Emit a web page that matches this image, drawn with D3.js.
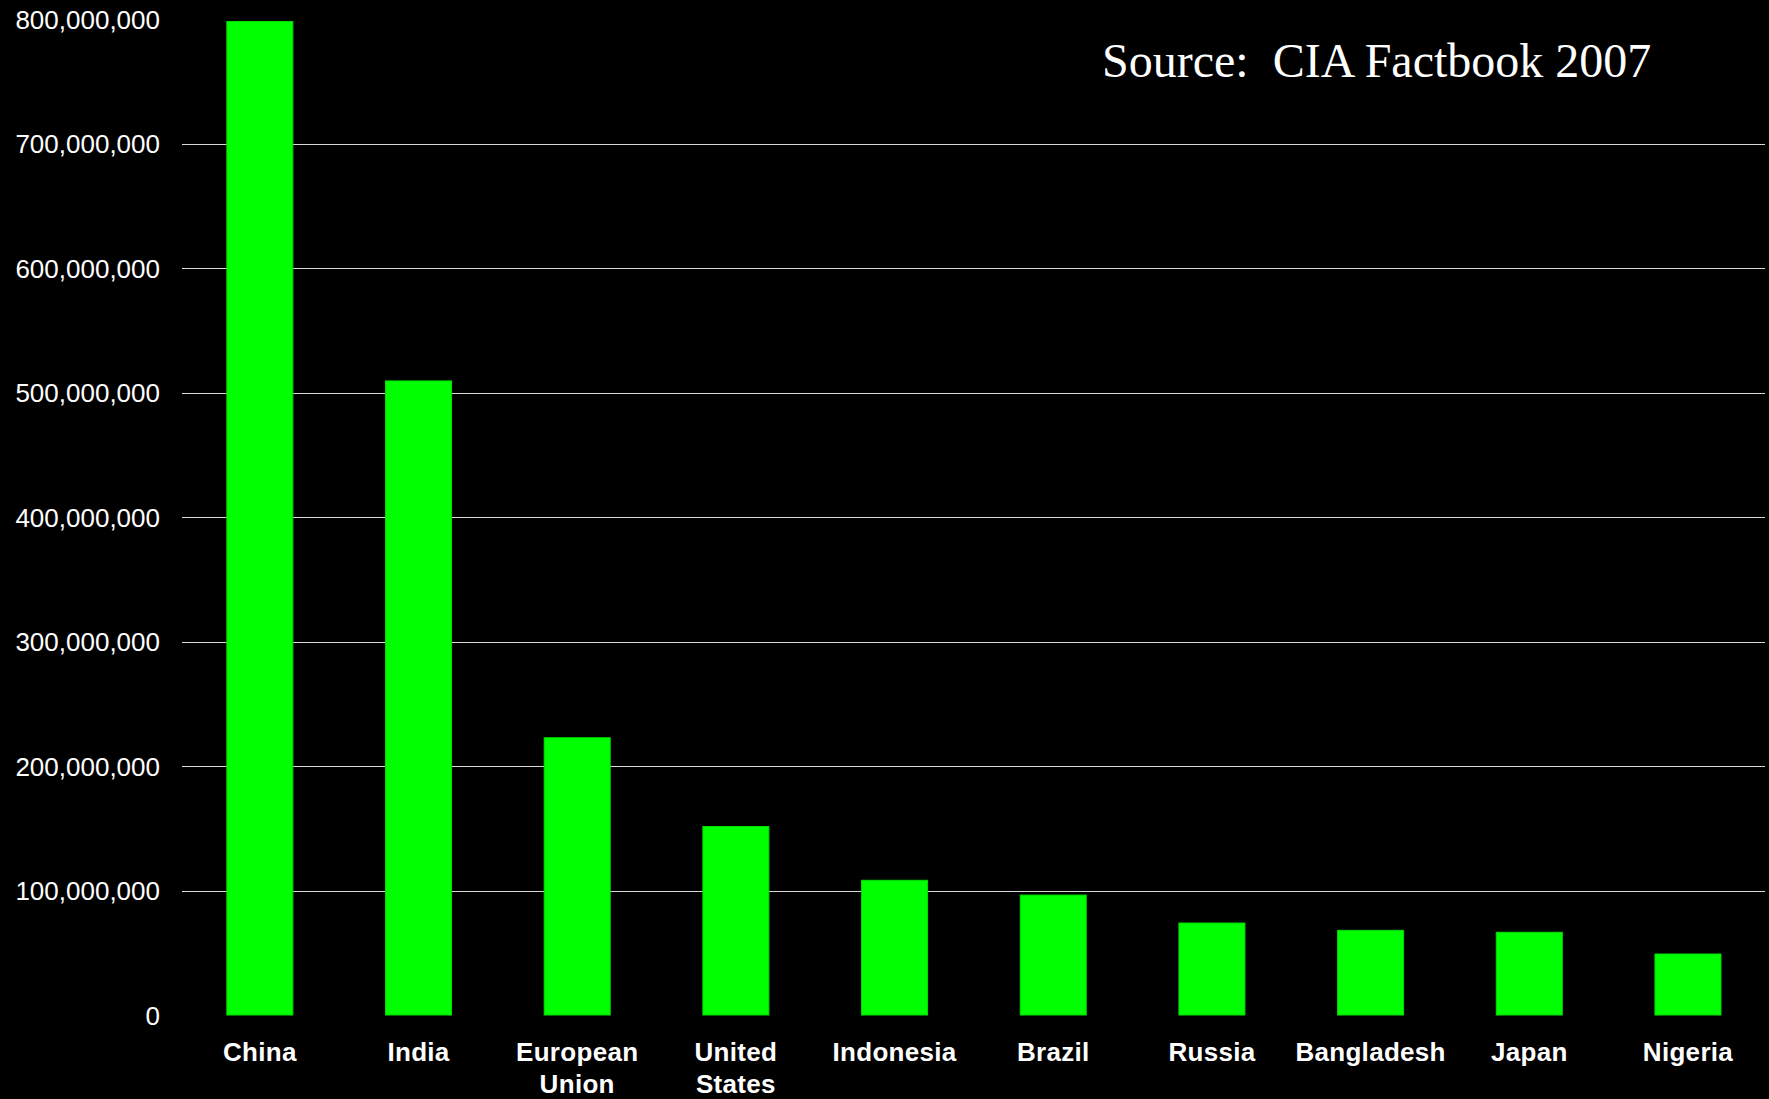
<!DOCTYPE html>
<html><head><meta charset="utf-8">
<script src="https://cdn.jsdelivr.net/npm/d3@7"></script>
<style>html,body{margin:0;padding:0;background:#000;}svg{display:block;}</style>
</head><body>
<script>
const categories = ["China","India","European Union","United States","Indonesia","Brazil","Russia","Bangladesh","Japan","Nigeria"];
const values = [798000000,509300000,222700000,151400000,108200000,96340000,73880000,68000000,66440000,48990000];
const yTicks = [0,100000000,200000000,300000000,400000000,500000000,600000000,700000000,800000000];
const sourceText = "Source:  CIA Factbook 2007";

const W = 1769, H = 1099;
const svg = d3.select("body").append("svg").attr("width", W).attr("height", H)
  .style("background", "#000");

const x = d3.scaleBand().domain(categories).range([180.5, 1767.3]).paddingInner(0.584).paddingOuter(0.292);
const y = d3.scaleLinear().domain([0, 800000000]).range([1015, 19]);

// gridlines
svg.append("g").selectAll("line").data(yTicks.filter(d => d > 0 && d < 800000000)).join("line")
  .attr("x1", 182).attr("x2", 1765)
  .attr("y1", d => Math.round(y(d)) + 0.5).attr("y2", d => Math.round(y(d)) + 0.5)
  .attr("stroke", "#d8d8d8").attr("stroke-width", 1);

// y axis labels
const yAxis = d3.axisLeft(y).tickValues(yTicks).tickSize(0).tickPadding(0)
  .tickFormat(d3.format(","));
const gy = svg.append("g").attr("transform", "translate(160,0)").call(yAxis);
gy.select(".domain").remove();
gy.selectAll("text").attr("fill", "#fff").attr("font-family", "Liberation Sans, Arial, sans-serif")
  .attr("font-size", 26).attr("dy", "0.35em");

// bars
svg.append("g").selectAll("rect").data(values).join("rect")
  .attr("x", (d, i) => x(categories[i]))
  .attr("width", x.bandwidth())
  .attr("y", d => y(d))
  .attr("height", d => y(0) - y(d))
  .attr("fill", "#00ff00")
  .attr("stroke", "#00dd00").attr("stroke-width", 1);

// x labels
const xAxis = d3.axisBottom(x).tickSize(0).tickPadding(0);
const gx = svg.append("g").attr("transform", "translate(0,1015)").call(xAxis);
gx.select(".domain").remove();
gx.selectAll("text").each(function(d) {
  const t = d3.select(this);
  t.text(null).attr("fill", "#fff").attr("font-family", "Liberation Sans, Arial, sans-serif")
    .attr("font-weight", "bold").attr("font-size", 26).attr("text-anchor", "middle").attr("y", 0).attr("dy", null)
    .attr("letter-spacing", 0.3);
  const words = d.split(" ");
  words.forEach((w, k) => {
    t.append("tspan").attr("x", 0).attr("y", 46 + k * 32).text(w);
  });
});

// source text
svg.append("text").attr("x", 1102).attr("y", 77)
  .attr("fill", "#fff").attr("font-family", "Liberation Serif, Times New Roman, serif")
  .attr("font-size", 48).style("white-space", "pre").text(sourceText);
</script>
</body></html>
